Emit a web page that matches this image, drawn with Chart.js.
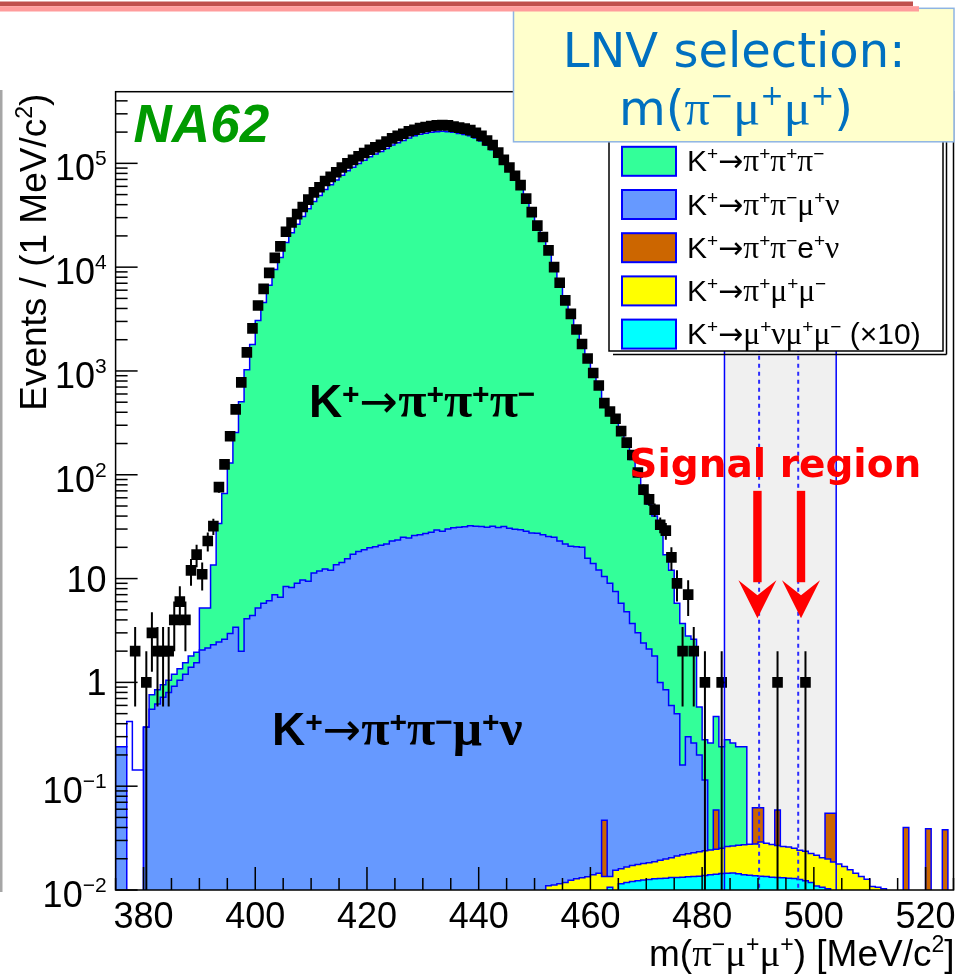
<!DOCTYPE html>
<html>
<head>
<meta charset="utf-8">
<title>m(pi- mu+ mu+) spectrum</title>
<script src="https://cdn.jsdelivr.net/npm/chart.js@4.4.1/dist/chart.umd.min.js"></script>
<style>
  html, body { margin: 0; padding: 0; background: #fff; }
  canvas { display: block; }
</style>
</head>
<body>
<canvas id="myChart" width="961" height="976" style="width:961px;height:976px"></canvas>
<script>
// 1 MeV/c2 bins from 375 to 525, index 0 = [375,376)
const massLow = 375;
const massHigh = 525;
const yMin = 0.01;
const yMax = 4.9e5;

// stacked MC: cumulative height of each layer (events / bin)
const k3piTop = [
  0.24, 0.24, 0.42, 0.143, 0.143, 0.37, 0.76, 0.85, 0.95, 1.05,
  1.2, 1.35, 1.55, 1.8, 1.95, 5.2, 5.2, 13.5, 34, 66,
  130, 256, 505, 1030, 1800, 3070, 4570, 6700, 9470, 12400,
  17300, 21500, 25900, 30800, 36600, 43000, 48900, 56100, 62200, 69000,
  76600, 85000, 91800, 99500, 107000, 116000, 123000, 130000, 139000, 150000,
  158000, 166000, 175000, 184000, 191000, 195000, 199000, 202000, 204000, 202000,
  199000, 194000, 190000, 184000, 175000, 164000, 149000, 135000, 117000, 100000,
  86600, 73600, 61700, 46600, 34600, 25600, 19800, 14700, 10100, 7200,
  4850, 3500, 2450, 1750, 1250, 900, 680, 470, 380, 320,
  245, 185, 140, 100, 70, 52, 40, 30, 17, 12,
  5.8, 3.7, 2.8, 2.6, 0.58, 0.28, 0.26, 0.47, 0.24, 0.28,
  0.26, 0.24, 0.24, 0, 0, 0, 0, 0, 0, 0,
  0, 0, 0, 0, 0, 0, 0, 0, 0, 0,
  0, 0, 0, 0, 0, 0, 0, 0, 0, 0,
  0, 0, 0, 0, 0, 0, 0, 0, 0, 0
];
const pmnuTop = [
  0.24, 0.24, 0, 0, 0, 0.37, 0.55, 0.62, 0.72, 0.8,
  0.92, 1.05, 1.2, 1.4, 1.55, 2.05, 2.15, 2.3, 2.45, 2.6,
  2.95, 3.4, 2.0, 4.1, 4.4, 5.2, 5.8, 6.1, 7.0, 6.6,
  8.4, 8.2, 9.0, 9.7, 9.4, 11.3, 11.8, 12.4, 12.0, 13.6,
  14.3, 15.5, 17.2, 18.2, 19.0, 19.8, 20.3, 21.0, 21.5, 23.0,
  23.5, 25.0, 24.6, 26.0, 26.5, 27.2, 28.0, 29.3, 28.5, 30.0,
  30.8, 31.2, 31.6, 32.2, 32.0, 31.8, 31.3, 32.0, 31.0, 31.7,
  30.5, 29.8, 29.5, 28.5, 27.5, 27.4, 26.5, 25.5, 25.0, 23.0,
  21.5, 20.5, 20.3, 20.0, 15.7, 14.0, 12.1, 10.5, 9.0, 7.5,
  5.8, 4.8, 3.7, 3.0, 2.4, 2.1, 1.8, 1.0, 0.85, 0.6,
  0.5, 0.16, 0.3, 0.26, 0.2, 0.115, 0, 0, 0, 0,
  0, 0, 0, 0, 0, 0, 0, 0, 0, 0,
  0, 0, 0, 0, 0, 0, 0, 0, 0, 0,
  0, 0, 0, 0, 0, 0, 0, 0, 0, 0,
  0, 0, 0, 0, 0, 0, 0, 0, 0, 0
];
const penuTop = [
  0, 0, 0, 0, 0, 0, 0, 0, 0, 0,
  0, 0, 0, 0, 0, 0, 0, 0, 0, 0,
  0, 0, 0, 0, 0, 0, 0, 0, 0, 0,
  0, 0, 0, 0, 0, 0, 0, 0, 0, 0,
  0, 0, 0, 0, 0, 0, 0, 0, 0, 0,
  0, 0, 0, 0, 0, 0, 0, 0, 0, 0,
  0, 0, 0, 0, 0, 0, 0, 0, 0, 0,
  0, 0, 0, 0, 0, 0, 0, 0, 0, 0,
  0, 0, 0, 0, 0, 0, 0, 0.047, 0, 0,
  0, 0, 0, 0, 0, 0, 0, 0, 0, 0,
  0, 0, 0, 0, 0, 0, 0, 0.059, 0, 0,
  0, 0, 0, 0, 0.062, 0.062, 0, 0, 0.059, 0,
  0, 0, 0, 0, 0, 0, 0, 0.055, 0.055, 0,
  0, 0, 0, 0, 0, 0, 0, 0, 0, 0,
  0, 0.040, 0, 0, 0, 0.039, 0, 0, 0.038, 0
];
const pimmTop = [
  0, 0, 0, 0, 0, 0, 0, 0, 0, 0,
  0, 0, 0, 0, 0, 0, 0, 0, 0, 0,
  0, 0, 0, 0, 0, 0, 0, 0, 0, 0,
  0, 0, 0, 0, 0, 0, 0, 0, 0, 0,
  0, 0, 0, 0, 0, 0, 0, 0, 0, 0,
  0, 0, 0, 0, 0, 0, 0, 0, 0, 0,
  0, 0, 0, 0, 0, 0, 0, 0, 0, 0,
  0, 0, 0, 0, 0, 0, 0, 0.011, 0.0112, 0.0115,
  0.0118, 0.0124, 0.0128, 0.0131, 0.0134, 0.014, 0.0145, 0.0135, 0.0135, 0.0155,
  0.016, 0.0167, 0.0172, 0.0176, 0.018, 0.0183, 0.0187, 0.0193, 0.0199, 0.0205,
  0.0213, 0.0218, 0.0224, 0.0229, 0.0234, 0.0239, 0.0243, 0.0247, 0.0252, 0.0262,
  0.0266, 0.027, 0.0273, 0.0276, 0.0278, 0.029, 0.0282, 0.0274, 0.0268, 0.0263,
  0.026, 0.0252, 0.0242, 0.0236, 0.0225, 0.0216, 0.0205, 0.0199, 0.0186, 0.0178,
  0.0168, 0.0157, 0.0145, 0.0135, 0.0127, 0.0108, 0.0106, 0.0103, 0, 0,
  0, 0, 0, 0, 0, 0, 0, 0, 0, 0
];
const mnmmTop = [
  0, 0, 0, 0, 0, 0, 0, 0, 0, 0,
  0, 0, 0, 0, 0, 0, 0, 0, 0, 0,
  0, 0, 0, 0, 0, 0, 0, 0, 0, 0,
  0, 0, 0, 0, 0, 0, 0, 0, 0, 0,
  0, 0, 0, 0, 0, 0, 0, 0, 0, 0,
  0, 0, 0, 0, 0, 0, 0, 0, 0, 0,
  0, 0, 0, 0, 0, 0, 0, 0, 0, 0,
  0, 0, 0, 0, 0, 0, 0, 0, 0, 0,
  0, 0, 0, 0, 0, 0, 0, 0, 0.0106, 0,
  0.0115, 0.0118, 0.0121, 0.0123, 0.0125, 0.0126, 0.0128, 0.0129, 0.013, 0.0132,
  0.0132, 0.0133, 0.0134, 0.0135, 0.0136, 0.0138, 0.014, 0.0142, 0.0144, 0.0145,
  0.0146, 0.0143, 0.014, 0.0139, 0.0137, 0.0136, 0.0135, 0.0133, 0.0132, 0.0131,
  0.013, 0.0129, 0.0126, 0.0123, 0.0118, 0.0109, 0.0106, 0.0103, 0, 0,
  0, 0, 0, 0, 0, 0, 0, 0, 0, 0,
  0, 0, 0, 0, 0, 0, 0, 0, 0, 0
];
// data, events per bin (0 = empty bin)
const dataCounts = [
  0, 0, 0, 2, 0, 1, 3, 2, 2, 2,
  4, 6, 4, 12, 17, 11, 23, 32, 76, 126,
  235, 427, 776, 1510, 2570, 4270, 6170, 8810, 12300, 15850,
  21900, 26900, 32400, 38000, 44700, 52500, 58900, 67600, 74100, 82200,
  91200, 100000, 108000, 117000, 126000, 135000, 143000, 151000, 162000, 174000,
  184000, 193000, 204000, 211000, 219000, 224000, 229000, 232000, 234000, 232000,
  226000, 221000, 216000, 209000, 197000, 184000, 166000, 150000, 127000, 108000,
  91200, 75900, 61700, 45700, 33900, 25100, 19500, 14500, 10000, 7080,
  4790, 3550, 2510, 1820, 1320, 955, 724, 490, 407, 347,
  263, 204, 155, 105, 72, 58, 46, 33, 29, 16,
  9, 2, 7, 2, 0, 1, 0, 0, 1, 0,
  0, 0, 0, 0, 0, 0, 0, 0, 1, 0,
  0, 0, 0, 1, 0, 0, 0, 0, 0, 0,
  0, 0, 0, 0, 0, 0, 0, 0, 0, 0,
  0, 0, 0, 0, 0, 0, 0, 0, 0, 0
];

const xTicks = [380, 400, 420, 440, 460, 480, 500, 520];
const yTicks = [0.01, 0.1, 1, 10, 100, 1000, 10000, 100000];
const yTickLabels = ['10^{−2}', '10^{−1}', '1', '10', '10^{2}', '10^{3}', '10^{4}', '10^{5}'];

const legendLabels = [
  'K^{+}→π^{+}π^{+}π^{−}',
  'K^{+}→π^{+}π^{−}μ^{+}ν',
  'K^{+}→π^{+}π^{−}e^{+}ν',
  'K^{+}→π^{+}μ^{+}μ^{−}',
  'K^{+}→μ^{+}νμ^{+}μ^{−} (×10)'
];
const legendColors = ['#33ff99', '#6699ff', '#cc6600', '#ffff00', '#00ffff'];

const signalBox = [484, 504];
const signalCuts = [490.2, 497.2];
const arrowMass = [489.9, 497.7];
const arrowSpan = [70, 4.15];

const FLOOR = 1e-4;    // stands in for empty bins on the log axis
const openBins = 5;    // leading K3pi bins drawn as outline only

// histogram outline as a step path through the bin edges
function steps(values, from, to) {
  const pts = [{ x: massLow + from, y: FLOOR }];
  for (let i = from; i < to; i++) pts.push({ x: massLow + i, y: values[i] || FLOOR });
  pts.push({ x: massLow + to, y: values[to - 1] || FLOOR });
  pts.push({ x: massLow + to, y: FLOOR });
  return pts;
}

function histo(label, values, from, color, order, fill) {
  return {
    label,
    data: steps(values, from, values.length),
    stepped: true,
    borderColor: '#0000ff',
    borderWidth: 1.5,
    backgroundColor: color,
    fill: fill === false ? false : 'start',
    pointRadius: 0,
    order
  };
}

const GREEK = 'πμν';
function pieces(str) {
  const out = [];
  let sup = false;
  for (let i = 0; i < str.length; i++) {
    if (str[i] === '^' && str[i + 1] === '{') { sup = true; i++; continue; }
    if (sup && str[i] === '}') { sup = false; continue; }
    out.push({ ch: str[i], sup });
  }
  return out;
}
function fontOf(p, st) {
  const size = p.sup ? st.sup : st.size;
  if (GREEK.includes(p.ch)) return `${st.greekWeight || ''} ${size * (st.greekScale || 1)}px ${st.greek}`;
  if (p.ch === '→') return `${size}px ${st.arrow || st.family}`;
  return `${st.style || ''} ${st.weight || ''} ${size}px ${st.family}`;
}
// text with ^{...} superscripts and greek letters in a separate face
function drawRich(ctx, str, x, y, st) {
  const ps = pieces(str);
  let w = 0;
  ps.forEach(p => { ctx.font = fontOf(p, st); p.w = ctx.measureText(p.ch).width; w += p.w; });
  let cx = st.align === 'right' ? x - w : st.align === 'center' ? x - w / 2 : x;
  ctx.textAlign = 'left';
  ctx.textBaseline = 'alphabetic';
  ctx.fillStyle = st.color || '#000';
  ps.forEach(p => {
    ctx.font = fontOf(p, st);
    ctx.fillText(p.ch, cx, p.sup ? y - st.rise : y);
    cx += p.w;
  });
  return w;
}

function seg(ctx, x0, y0, x1, y1) {
  ctx.beginPath();
  ctx.moveTo(x0, y0);
  ctx.lineTo(x1, y1);
  ctx.stroke();
}

const rootFont = { family: '"Liberation Sans"', greek: '"Liberation Serif"', arrow: '"DejaVu Sans"' };
const tickStyle = { ...rootFont, size: 36, sup: 21, rise: 15, align: 'right' };
const titleStyle = { ...rootFont, size: 37, sup: 23, rise: 14, greekScale: 1.05 };
const legendStyle = { ...rootFont, size: 30, sup: 19, rise: 11, greekScale: 1.05 };
const bigLabel = { family: '"Liberation Sans"', weight: 'bold', greek: '"Liberation Serif"',
  greekWeight: 'bold', arrow: '"DejaVu Sans"', size: 46, sup: 30, rise: 13, greekScale: 1.12 };

const decor = {
  id: 'decor',
  beforeDatasetsDraw(chart) {
    const { ctx, chartArea: a, scales: { x } } = chart;
    const x0 = x.getPixelForValue(signalBox[0]);
    const x1 = x.getPixelForValue(signalBox[1]);
    ctx.save();
    ctx.fillStyle = '#f0f0f0';
    ctx.fillRect(x0, a.top, x1 - x0, a.bottom - a.top);
    ctx.restore();
  },
  afterDatasetsDraw(chart) {
    const { ctx, chartArea: a, scales: { x, y } } = chart;
    ctx.save();

    // signal box edges and the signal region cuts
    ctx.strokeStyle = '#0000ff';
    ctx.lineWidth = 1.5;
    signalBox.forEach(m => { const px = x.getPixelForValue(m); seg(ctx, px, a.top, px, a.bottom); });
    ctx.setLineDash([4, 4]);
    ctx.lineWidth = 2;
    ctx.strokeStyle = '#2b2bff';
    signalCuts.forEach(m => { const px = x.getPixelForValue(m); seg(ctx, px, a.top, px, a.bottom); });
    ctx.setLineDash([]);

    // poisson error bars on the data
    ctx.save();
    ctx.beginPath();
    ctx.rect(a.left, a.top, a.right - a.left, a.bottom - a.top);
    ctx.clip();
    ctx.strokeStyle = '#000';
    ctx.lineWidth = 2;
    dataCounts.forEach((n, i) => {
      if (!n) return;
      const m = massLow + i + 0.5;
      const e = Math.sqrt(n);
      const px = x.getPixelForValue(m);
      const py = y.getPixelForValue(n);
      const lo = n - e > yMin ? y.getPixelForValue(n - e) : a.bottom;
      seg(ctx, px, y.getPixelForValue(n + e), px, lo);
      seg(ctx, x.getPixelForValue(m - 0.5), py, x.getPixelForValue(m + 0.5), py);
    });
    ctx.restore();

    // frame and inward ticks
    ctx.strokeStyle = '#000';
    ctx.lineWidth = 1.5;
    ctx.strokeRect(a.left, a.top, a.right - a.left, a.bottom - a.top);
    for (let m = massLow; m <= massHigh; m += 5) {
      const px = x.getPixelForValue(m);
      seg(ctx, px, a.bottom, px, a.bottom - (m % 20 === 0 ? 23 : 12));
    }
    for (let d = -2; d <= 5; d++) {
      for (let k = 1; k <= 9; k++) {
        const v = k * Math.pow(10, d);
        if (v > yMax) break;
        const py = y.getPixelForValue(v);
        seg(ctx, a.left, py, a.left + (k === 1 ? 22 : 12), py);
      }
    }

    // tick labels
    ctx.fillStyle = '#000';
    ctx.font = '36px "Liberation Sans"';
    ctx.textAlign = 'center';
    ctx.textBaseline = 'alphabetic';
    xTicks.forEach(v => ctx.fillText(String(v), x.getPixelForValue(v), a.bottom + 38));
    yTicks.forEach((v, i) => {
      const lab = yTickLabels[i];
      const py = y.getPixelForValue(v);
      drawRich(ctx, lab, a.left - 9, py + (lab.includes('^') ? 17 : 13), tickStyle);
    });

    // axis titles
    drawRich(ctx, 'm(π^{−}μ^{+}μ^{+}) [MeV/c^{2}]', a.right + 1, 966, { ...titleStyle, align: 'right' });
    ctx.save();
    ctx.translate(46, a.top + 2);
    ctx.rotate(-Math.PI / 2);
    drawRich(ctx, 'Events / (1 MeV/c^{2})', 0, 0, { ...titleStyle, align: 'right' });
    ctx.restore();

    // experiment tag
    ctx.fillStyle = '#009a00';
    ctx.font = 'italic bold 53px "Liberation Sans"';
    ctx.textAlign = 'left';
    ctx.fillText('NA62', a.left + 18, a.top + 50);

    // process labels
    drawRich(ctx, 'K^{+}→π^{+}π^{+}π^{−}', x.getPixelForValue(409.6), y.getPixelForValue(364), bigLabel);
    drawRich(ctx, 'K^{+}→π^{+}π^{−}μ^{+}ν', x.getPixelForValue(403), y.getPixelForValue(0.25), bigLabel);

    // signal region arrows
    ctx.fillStyle = '#ff0000';
    arrowMass.forEach(m => {
      const px = x.getPixelForValue(m);
      const top = y.getPixelForValue(arrowSpan[0]);
      const tip = y.getPixelForValue(arrowSpan[1]);
      ctx.fillRect(px - 4.2, top, 8.4, tip - top - 36);
      ctx.beginPath();
      ctx.moveTo(px, tip);
      ctx.lineTo(px - 19, tip - 38);
      ctx.lineTo(px, tip - 23);
      ctx.lineTo(px + 19, tip - 38);
      ctx.closePath();
      ctx.fill();
    });
    ctx.font = 'bold 39px "DejaVu Sans"';
    ctx.textAlign = 'center';
    ctx.fillText('Signal region', x.getPixelForValue(493.1), y.getPixelForValue(95));
    ctx.restore();
  },
  afterDraw(chart) {
    const { ctx } = chart;
    ctx.save();

    // legend box with shadow
    const lx0 = 609, lx1 = 943, ly0 = 118, ly1 = 351;
    ctx.fillStyle = '#fff';
    ctx.fillRect(lx0, ly0, lx1 - lx0, ly1 - ly0);
    ctx.strokeStyle = '#000';
    ctx.lineWidth = 1.5;
    ctx.strokeRect(lx0, ly0, lx1 - lx0, ly1 - ly0);
    seg(ctx, lx1 + 3.5, ly0 + 4, lx1 + 3.5, ly1 + 3.5);
    seg(ctx, lx0 + 4, ly1 + 3.5, lx1 + 3.5, ly1 + 3.5);
    legendLabels.forEach((t, i) => {
      const cy = 161.3 + i * 43.2;
      ctx.fillStyle = legendColors[i];
      ctx.fillRect(622, cy - 14.5, 54, 29);
      ctx.strokeStyle = '#0000ff';
      ctx.lineWidth = 2;
      ctx.strokeRect(622, cy - 14.5, 54, 29);
      drawRich(ctx, t, 687, cy + 10, legendStyle);
    });

    // selection box
    ctx.fillStyle = '#ffffcc';
    ctx.fillRect(513.5, 8.3, 440.5, 133.5);
    ctx.strokeStyle = '#8eb4e3';
    ctx.lineWidth = 1.5;
    ctx.strokeRect(513.5, 8.3, 440.5, 133.5);
    const boxText = { family: '"DejaVu Sans"', greek: '"Liberation Serif"', size: 48, sup: 28,
      rise: 20, greekScale: 1.05, color: '#0070c0', align: 'center' };
    drawRich(ctx, 'LNV selection:', 734, 67, boxText);
    drawRich(ctx, 'm(π^{−}μ^{+}μ^{+})', 736, 125, boxText);

    // slide header rule and left margin line
    ctx.fillStyle = '#c0504d';
    ctx.fillRect(0, 1.5, 913, 4.7);
    ctx.fillStyle = '#ff9c9c';
    ctx.fillRect(0, 6.2, 919, 5.3);
    ctx.fillStyle = '#a6a6a6';
    ctx.fillRect(0, 90, 2.5, 802);
    ctx.restore();
  }
};

const ctx = document.getElementById('myChart').getContext('2d');
const chart = new Chart(ctx, {
  type: 'line',
  data: {
    datasets: [
      histo('K3pi edge', k3piTop.slice(0, openBins + 1), 0, 'rgba(0,0,0,0)', 7, false),
      histo('K+ -> pi+ pi+ pi-', k3piTop, openBins, legendColors[0], 6),
      histo('K+ -> pi+ pi- mu+ nu', pmnuTop, 0, legendColors[1], 5),
      histo('K+ -> pi+ pi- e+ nu', penuTop, 0, legendColors[2], 4),
      histo('K+ -> pi+ mu+ mu-', pimmTop, 0, legendColors[3], 3),
      histo('K+ -> mu+ nu mu+ mu-', mnmmTop, 0, legendColors[4], 2),
      {
        label: 'Data',
        data: dataCounts.map((n, i) => ({ x: massLow + i + 0.5, y: n })).filter(p => p.y > 0),
        showLine: false,
        pointStyle: 'rect',
        pointRadius: 7.5,
        pointBackgroundColor: '#000',
        pointBorderWidth: 0,
        order: 0
      }
    ]
  },
  options: {
    responsive: false,
    animation: false,
    devicePixelRatio: 1,
    layout: { padding: { left: 115.6, top: 91.7, right: 6.4, bottom: 86 } },
    scales: {
      x: { type: 'linear', min: massLow, max: massHigh, display: false },
      y: { type: 'logarithmic', min: yMin, max: yMax, display: false }
    },
    plugins: { legend: { display: false }, tooltip: { enabled: false } }
  },
  plugins: [decor]
});
</script>
</body>
</html>
